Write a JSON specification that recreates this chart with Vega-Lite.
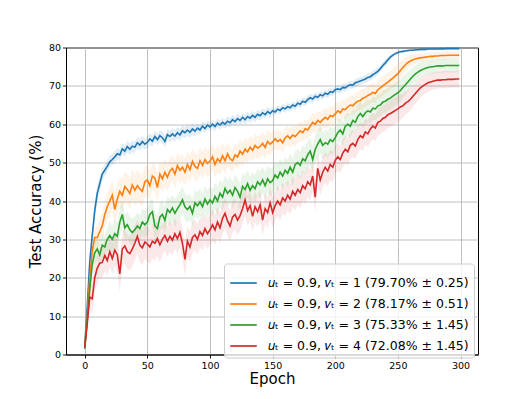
{
"$schema":"https://vega.github.io/schema/vega-lite/v6.json",
"width":412,"height":307,
"autosize":{"type":"none"},
"padding":{"left":66,"top":47.5,"right":54,"bottom":44.5},
"background":"white",
"data":{"values":[
{"e":0,"b":2.0,"o":2.0,"g":1.5,"r":1.8,"db":0.5,"do":0.5,"dg":0.5,"dr":0.5},
{"e":2,"b":12.5,"o":10.0,"g":9.0,"r":8.0,"db":2,"do":2,"dg":2,"dr":2},
{"e":4,"b":24.0,"o":20.0,"g":17.0,"r":15.0,"db":2.5,"do":3,"dg":3,"dr":3},
{"e":6,"b":31.0,"o":27.0,"g":23.5,"r":14.5,"db":2,"do":3,"dg":3,"dr":4},
{"e":8,"b":37.5,"o":30.5,"g":26.5,"r":20.0,"db":2,"do":3,"dg":3,"dr":4},
{"e":10,"b":42.0,"o":30.5,"g":27.5,"r":22.5,"db":2,"do":3,"dg":3,"dr":4},
{"e":12,"b":44.5,"o":32.0,"g":26.0,"r":23.8,"db":2,"do":3,"dg":3,"dr":4},
{"e":14,"b":47.0,"o":33.5,"g":28.5,"r":24.0,"db":1.5,"do":3.5,"dg":3,"dr":4},
{"e":16,"b":48.0,"o":36.5,"g":28.0,"r":25.8,"db":1.5,"do":3.5,"dg":3,"dr":4},
{"e":18,"b":49.0,"o":38.5,"g":30.0,"r":24.5,"db":1.5,"do":3.5,"dg":3,"dr":4},
{"e":20,"b":50.2,"o":40.0,"g":31.0,"r":26.8,"db":1.5,"do":4,"dg":3.5,"dr":4},
{"e":22,"b":50.8,"o":41.5,"g":30.0,"r":25.0,"db":1.5,"do":4,"dg":3.5,"dr":4},
{"e":24,"b":51.5,"o":37.8,"g":31.5,"r":27.2,"db":1.5,"do":4,"dg":3.5,"dr":4},
{"e":26,"b":52.3,"o":40.5,"g":30.8,"r":26.0,"db":1.5,"do":4,"dg":3.5,"dr":4.5},
{"e":28,"b":52.0,"o":42.5,"g":34.5,"r":21.0,"db":1.5,"do":4,"dg":3.5,"dr":4.5},
{"e":30,"b":53.6,"o":41.5,"g":36.5,"r":27.5,"db":1.5,"do":4,"dg":3.5,"dr":4.5},
{"e":32,"b":53.0,"o":43.8,"g":33.0,"r":28.3,"db":1.5,"do":4,"dg":3.5,"dr":4.5},
{"e":34,"b":54.2,"o":43.0,"g":33.8,"r":26.8,"db":1.5,"do":4,"dg":3.5,"dr":4.5},
{"e":36,"b":53.5,"o":42.0,"g":32.5,"r":26.3,"db":1.5,"do":4,"dg":3.5,"dr":4.5},
{"e":38,"b":54.3,"o":44.2,"g":31.8,"r":27.5,"db":1.5,"do":4,"dg":3.5,"dr":4.5},
{"e":40,"b":54.0,"o":42.8,"g":32.5,"r":29.0,"db":1.5,"do":4,"dg":3.5,"dr":4.5},
{"e":42,"b":55.2,"o":44.0,"g":33.5,"r":30.8,"db":1.5,"do":4,"dg":3.5,"dr":4.5},
{"e":44,"b":54.6,"o":43.2,"g":32.8,"r":28.5,"db":1.5,"do":4,"dg":3.5,"dr":4.5},
{"e":46,"b":55.5,"o":42.5,"g":34.5,"r":27.8,"db":1.5,"do":4,"dg":3.5,"dr":4.5},
{"e":48,"b":54.8,"o":45.0,"g":33.8,"r":29.3,"db":1.5,"do":4,"dg":3.5,"dr":4.5},
{"e":50,"b":55.3,"o":45.5,"g":34.5,"r":28.8,"db":1.5,"do":4,"dg":3.5,"dr":4.5},
{"e":52,"b":56.2,"o":44.0,"g":36.5,"r":28.0,"db":1.5,"do":3.5,"dg":3.5,"dr":4.5},
{"e":54,"b":55.6,"o":46.5,"g":37.2,"r":29.5,"db":1.5,"do":3.5,"dg":3.5,"dr":4.5},
{"e":56,"b":56.8,"o":46.0,"g":33.5,"r":29.0,"db":1.5,"do":3.5,"dg":3.5,"dr":4.5},
{"e":58,"b":56.0,"o":43.5,"g":32.8,"r":30.2,"db":1.5,"do":3.5,"dg":3.5,"dr":4.5},
{"e":60,"b":57.0,"o":47.0,"g":35.8,"r":28.6,"db":1.5,"do":3.5,"dg":3.5,"dr":4.5},
{"e":62,"b":56.5,"o":45.8,"g":36.5,"r":30.0,"db":1.5,"do":3.5,"dg":3.5,"dr":4},
{"e":64,"b":55.5,"o":47.5,"g":35.0,"r":31.0,"db":1.5,"do":3.5,"dg":3.5,"dr":4},
{"e":66,"b":57.3,"o":46.2,"g":37.8,"r":29.5,"db":1.5,"do":3.5,"dg":3.5,"dr":4},
{"e":68,"b":56.8,"o":47.8,"g":37.0,"r":30.8,"db":1.5,"do":3.5,"dg":3.5,"dr":4},
{"e":70,"b":57.5,"o":48.5,"g":38.2,"r":29.8,"db":1.5,"do":3.5,"dg":3.5,"dr":4},
{"e":72,"b":56.9,"o":47.0,"g":36.8,"r":31.5,"db":1.5,"do":3.5,"dg":3.5,"dr":4},
{"e":74,"b":57.8,"o":49.2,"g":38.0,"r":30.2,"db":1.5,"do":3.5,"dg":3.5,"dr":4},
{"e":76,"b":57.2,"o":48.0,"g":39.0,"r":31.8,"db":1.5,"do":3.5,"dg":3.5,"dr":4},
{"e":78,"b":58.3,"o":48.8,"g":40.3,"r":29.0,"db":1.5,"do":3.5,"dg":3.5,"dr":4},
{"e":80,"b":57.8,"o":47.5,"g":38.5,"r":24.8,"db":1.5,"do":3.5,"dg":3.5,"dr":4.5},
{"e":82,"b":58.5,"o":49.5,"g":37.8,"r":29.5,"db":1.5,"do":3.5,"dg":3.5,"dr":4},
{"e":84,"b":57.9,"o":48.2,"g":38.6,"r":28.0,"db":1.5,"do":3.5,"dg":3.5,"dr":4},
{"e":86,"b":58.8,"o":50.3,"g":36.8,"r":30.5,"db":1.5,"do":3.5,"dg":3.5,"dr":4},
{"e":88,"b":58.2,"o":49.0,"g":39.5,"r":31.2,"db":1.5,"do":3.5,"dg":3.5,"dr":4},
{"e":90,"b":59.0,"o":48.5,"g":38.8,"r":30.0,"db":1.2,"do":3.5,"dg":3.5,"dr":4},
{"e":92,"b":58.5,"o":50.5,"g":39.8,"r":32.0,"db":1.2,"do":3.5,"dg":3.5,"dr":4},
{"e":94,"b":59.5,"o":49.3,"g":38.5,"r":31.0,"db":1.2,"do":3.5,"dg":3.5,"dr":4},
{"e":96,"b":58.9,"o":50.8,"g":40.5,"r":32.8,"db":1.2,"do":3.5,"dg":3.5,"dr":4},
{"e":98,"b":59.8,"o":49.8,"g":39.2,"r":31.5,"db":1.2,"do":3.5,"dg":3.5,"dr":4},
{"e":100,"b":59.3,"o":50.4,"g":40.3,"r":32.5,"db":1.2,"do":3.5,"dg":3.5,"dr":4},
{"e":102,"b":60.0,"o":51.5,"g":39.5,"r":33.8,"db":1.2,"do":3.5,"dg":3.5,"dr":4},
{"e":104,"b":59.4,"o":49.5,"g":41.2,"r":32.5,"db":1.2,"do":3.5,"dg":3.5,"dr":4},
{"e":106,"b":60.3,"o":51.0,"g":40.0,"r":34.5,"db":1.2,"do":3.5,"dg":3.5,"dr":4},
{"e":108,"b":59.8,"o":50.2,"g":42.0,"r":33.0,"db":1.2,"do":3.5,"dg":3.5,"dr":4},
{"e":110,"b":60.5,"o":51.8,"g":41.0,"r":35.5,"db":1.2,"do":3.5,"dg":3.5,"dr":4},
{"e":112,"b":60.0,"o":50.5,"g":43.3,"r":36.8,"db":1.2,"do":3.5,"dg":3.5,"dr":4},
{"e":114,"b":60.8,"o":52.3,"g":42.0,"r":34.8,"db":1.2,"do":3,"dg":3.5,"dr":4},
{"e":116,"b":60.4,"o":51.0,"g":42.8,"r":33.5,"db":1.2,"do":3,"dg":3.5,"dr":4},
{"e":118,"b":61.2,"o":50.5,"g":41.5,"r":35.8,"db":1.2,"do":3,"dg":3.5,"dr":4},
{"e":120,"b":60.7,"o":52.0,"g":43.5,"r":36.5,"db":1.2,"do":3,"dg":3.5,"dr":4},
{"e":122,"b":61.5,"o":51.5,"g":42.5,"r":35.0,"db":1.2,"do":3,"dg":3.5,"dr":4},
{"e":124,"b":61.0,"o":53.0,"g":41.0,"r":36.2,"db":1.2,"do":3,"dg":3.5,"dr":4},
{"e":126,"b":61.8,"o":52.2,"g":43.8,"r":38.0,"db":1.2,"do":3,"dg":3.5,"dr":4},
{"e":128,"b":61.2,"o":53.5,"g":43.0,"r":40.3,"db":1.2,"do":3,"dg":3.5,"dr":4},
{"e":130,"b":62.0,"o":52.8,"g":44.5,"r":37.5,"db":1.2,"do":3,"dg":3.5,"dr":4},
{"e":132,"b":61.6,"o":54.0,"g":42.8,"r":38.8,"db":1.2,"do":3,"dg":3.5,"dr":4},
{"e":134,"b":62.3,"o":53.2,"g":44.0,"r":36.0,"db":1.2,"do":3,"dg":3.5,"dr":4},
{"e":136,"b":61.8,"o":54.5,"g":43.2,"r":38.5,"db":1.2,"do":3,"dg":3.5,"dr":4},
{"e":138,"b":62.6,"o":53.8,"g":45.0,"r":37.2,"db":1.2,"do":3,"dg":3.5,"dr":4},
{"e":140,"b":62.2,"o":54.2,"g":44.2,"r":39.0,"db":1.2,"do":3,"dg":3.5,"dr":4},
{"e":142,"b":63.0,"o":55.0,"g":45.5,"r":35.0,"db":1.2,"do":3,"dg":3.5,"dr":4},
{"e":144,"b":62.5,"o":54.0,"g":44.0,"r":38.0,"db":1.2,"do":3,"dg":3.5,"dr":4},
{"e":146,"b":63.3,"o":55.5,"g":45.8,"r":37.0,"db":1.2,"do":3,"dg":3.5,"dr":4},
{"e":148,"b":62.8,"o":54.8,"g":44.8,"r":39.5,"db":1.2,"do":3,"dg":3.5,"dr":4},
{"e":150,"b":63.5,"o":55.4,"g":45.3,"r":37.0,"db":1,"do":2.5,"dg":3.5,"dr":4},
{"e":152,"b":63.2,"o":56.2,"g":46.8,"r":38.8,"db":1,"do":2.5,"dg":3.5,"dr":4},
{"e":154,"b":63.9,"o":55.5,"g":46.0,"r":40.0,"db":1,"do":2.5,"dg":3.5,"dr":4},
{"e":156,"b":63.6,"o":56.0,"g":47.5,"r":39.0,"db":1,"do":2.5,"dg":3.5,"dr":4},
{"e":158,"b":64.3,"o":55.2,"g":46.5,"r":40.8,"db":1,"do":2.5,"dg":3.5,"dr":4},
{"e":160,"b":64.0,"o":56.5,"g":48.0,"r":40.0,"db":1,"do":2.5,"dg":3.5,"dr":4},
{"e":162,"b":64.6,"o":57.0,"g":47.2,"r":41.5,"db":1,"do":2.5,"dg":3.5,"dr":4},
{"e":164,"b":64.3,"o":56.3,"g":48.8,"r":40.5,"db":1,"do":2.5,"dg":3.5,"dr":4},
{"e":166,"b":65.0,"o":57.2,"g":47.5,"r":42.5,"db":1,"do":2.5,"dg":3.5,"dr":4},
{"e":168,"b":64.7,"o":56.8,"g":49.5,"r":41.5,"db":1,"do":2.5,"dg":3.5,"dr":4},
{"e":170,"b":65.5,"o":57.5,"g":50.0,"r":43.0,"db":1,"do":2.5,"dg":3.5,"dr":4},
{"e":172,"b":65.2,"o":58.3,"g":49.3,"r":42.2,"db":1,"do":2.5,"dg":3.5,"dr":4},
{"e":174,"b":66.0,"o":57.8,"g":51.0,"r":44.0,"db":1,"do":2.5,"dg":3.5,"dr":4},
{"e":176,"b":65.7,"o":58.8,"g":50.5,"r":43.2,"db":1,"do":2.5,"dg":3.5,"dr":4},
{"e":178,"b":66.4,"o":58.5,"g":52.0,"r":45.0,"db":1,"do":2.5,"dg":3.5,"dr":4},
{"e":180,"b":66.9,"o":59.5,"g":53.0,"r":44.2,"db":1,"do":2.5,"dg":3.5,"dr":4},
{"e":182,"b":66.6,"o":60.5,"g":50.8,"r":46.5,"db":1,"do":2.5,"dg":3.5,"dr":4},
{"e":184,"b":67.3,"o":60.0,"g":53.5,"r":41.0,"db":1,"do":2.5,"dg":3.5,"dr":4},
{"e":186,"b":67.0,"o":61.0,"g":54.8,"r":48.5,"db":1,"do":2.5,"dg":3.5,"dr":4},
{"e":188,"b":67.7,"o":60.5,"g":56.0,"r":45.5,"db":1,"do":2.5,"dg":3.5,"dr":4},
{"e":190,"b":67.4,"o":61.2,"g":54.5,"r":47.5,"db":1,"do":2.5,"dg":3.5,"dr":4},
{"e":192,"b":68.1,"o":61.8,"g":55.2,"r":48.8,"db":1,"do":2.5,"dg":3.5,"dr":4},
{"e":194,"b":67.8,"o":61.3,"g":54.8,"r":47.8,"db":1,"do":2.5,"dg":3.5,"dr":4},
{"e":196,"b":68.5,"o":62.3,"g":56.0,"r":49.5,"db":1,"do":2.5,"dg":3.5,"dr":4},
{"e":198,"b":68.3,"o":62.0,"g":55.5,"r":48.8,"db":1,"do":2.5,"dg":3.5,"dr":4},
{"e":200,"b":69.0,"o":62.7,"g":56.5,"r":50.6,"db":1,"do":2.5,"dg":3,"dr":3.5},
{"e":202,"b":69.2,"o":63.5,"g":57.8,"r":51.5,"db":1,"do":2.5,"dg":3,"dr":3.5},
{"e":204,"b":69.0,"o":63.0,"g":58.5,"r":50.8,"db":1,"do":2.5,"dg":3,"dr":3.5},
{"e":206,"b":69.6,"o":64.0,"g":57.5,"r":52.5,"db":1,"do":2.5,"dg":3,"dr":3.5},
{"e":208,"b":69.5,"o":63.8,"g":59.5,"r":53.5,"db":1,"do":2.5,"dg":3,"dr":3.5},
{"e":210,"b":70.0,"o":64.5,"g":60.0,"r":52.8,"db":1,"do":2.5,"dg":3,"dr":3.5},
{"e":212,"b":70.3,"o":65.0,"g":59.5,"r":54.5,"db":1,"do":2.5,"dg":3,"dr":3.5},
{"e":214,"b":70.2,"o":64.8,"g":61.0,"r":55.0,"db":1,"do":2.5,"dg":3,"dr":3.5},
{"e":216,"b":70.8,"o":65.5,"g":60.5,"r":54.3,"db":1,"do":2.5,"dg":3,"dr":3.5},
{"e":218,"b":71.0,"o":66.0,"g":62.0,"r":56.0,"db":1,"do":2.5,"dg":3,"dr":3.5},
{"e":220,"b":71.3,"o":66.2,"g":62.8,"r":57.0,"db":1,"do":2.5,"dg":3,"dr":3.5},
{"e":222,"b":71.5,"o":66.8,"g":62.0,"r":56.5,"db":1,"do":2.5,"dg":3,"dr":3.5},
{"e":224,"b":71.8,"o":67.0,"g":63.0,"r":58.0,"db":1,"do":2.5,"dg":3,"dr":3.5},
{"e":226,"b":72.2,"o":67.5,"g":63.5,"r":57.5,"db":1,"do":2.5,"dg":3,"dr":3.5},
{"e":228,"b":72.4,"o":67.8,"g":63.2,"r":58.8,"db":1,"do":2.5,"dg":3,"dr":3.5},
{"e":230,"b":72.9,"o":68.3,"g":64.2,"r":59.5,"db":1,"do":2.5,"dg":3,"dr":3.5},
{"e":232,"b":73.3,"o":68.0,"g":64.0,"r":59.0,"db":1,"do":2.5,"dg":3,"dr":3.5},
{"e":234,"b":73.8,"o":69.0,"g":64.8,"r":60.5,"db":1,"do":2.5,"dg":3,"dr":3.5},
{"e":236,"b":74.5,"o":69.5,"g":65.0,"r":60.8,"db":0.8,"do":2.5,"dg":3,"dr":3.5},
{"e":238,"b":75.3,"o":70.0,"g":65.8,"r":61.5,"db":0.8,"do":2.5,"dg":3,"dr":3.5},
{"e":240,"b":76.0,"o":70.5,"g":66.0,"r":61.8,"db":0.8,"do":2.5,"dg":3,"dr":3.5},
{"e":242,"b":76.8,"o":71.0,"g":66.5,"r":62.5,"db":0.7,"do":2.5,"dg":3,"dr":3.5},
{"e":244,"b":77.5,"o":71.5,"g":66.8,"r":62.8,"db":0.6,"do":2.5,"dg":3,"dr":3.5},
{"e":246,"b":78.0,"o":72.0,"g":67.3,"r":63.2,"db":0.5,"do":2.5,"dg":3,"dr":3.5},
{"e":248,"b":78.4,"o":72.6,"g":67.8,"r":63.6,"db":0.5,"do":2.5,"dg":3,"dr":3.5},
{"e":250,"b":78.7,"o":73.2,"g":68.2,"r":64.0,"db":0.5,"do":2.3,"dg":3,"dr":3.5},
{"e":252,"b":78.9,"o":74.0,"g":68.8,"r":64.5,"db":0.4,"do":2.2,"dg":2.8,"dr":3.3},
{"e":254,"b":79.0,"o":74.8,"g":69.6,"r":64.8,"db":0.4,"do":2,"dg":2.8,"dr":3.2},
{"e":256,"b":79.1,"o":75.5,"g":70.3,"r":65.5,"db":0.4,"do":1.8,"dg":2.7,"dr":3},
{"e":258,"b":79.2,"o":76.1,"g":71.0,"r":65.9,"db":0.3,"do":1.6,"dg":2.6,"dr":3},
{"e":260,"b":79.3,"o":76.5,"g":71.8,"r":66.5,"db":0.3,"do":1.5,"dg":2.5,"dr":2.9},
{"e":262,"b":79.3,"o":76.8,"g":72.5,"r":67.3,"db":0.3,"do":1.4,"dg":2.4,"dr":2.8},
{"e":264,"b":79.4,"o":77.0,"g":73.1,"r":68.0,"db":0.3,"do":1.3,"dg":2.3,"dr":2.7},
{"e":266,"b":79.4,"o":77.2,"g":73.6,"r":68.8,"db":0.3,"do":1.2,"dg":2.2,"dr":2.6},
{"e":268,"b":79.5,"o":77.3,"g":74.0,"r":69.5,"db":0.3,"do":1.1,"dg":2.1,"dr":2.5},
{"e":270,"b":79.5,"o":77.4,"g":74.3,"r":70.0,"db":0.3,"do":1.1,"dg":2,"dr":2.4},
{"e":272,"b":79.5,"o":77.5,"g":74.6,"r":70.4,"db":0.3,"do":1,"dg":1.9,"dr":2.3},
{"e":274,"b":79.6,"o":77.6,"g":74.8,"r":70.8,"db":0.3,"do":1,"dg":1.9,"dr":2.3},
{"e":276,"b":79.6,"o":77.7,"g":74.9,"r":71.0,"db":0.3,"do":1,"dg":1.8,"dr":2.2},
{"e":278,"b":79.6,"o":77.7,"g":75.0,"r":71.2,"db":0.3,"do":1,"dg":1.8,"dr":2.2},
{"e":280,"b":79.6,"o":77.8,"g":75.1,"r":71.4,"db":0.3,"do":1,"dg":1.8,"dr":2.2},
{"e":282,"b":79.6,"o":77.8,"g":75.2,"r":71.5,"db":0.3,"do":1,"dg":1.8,"dr":2.2},
{"e":284,"b":79.7,"o":77.9,"g":75.2,"r":71.5,"db":0.3,"do":1,"dg":1.8,"dr":2.2},
{"e":286,"b":79.6,"o":77.9,"g":75.2,"r":71.6,"db":0.3,"do":1,"dg":1.8,"dr":2.2},
{"e":288,"b":79.7,"o":77.9,"g":75.3,"r":71.6,"db":0.3,"do":1,"dg":1.8,"dr":2.2},
{"e":290,"b":79.7,"o":78.0,"g":75.3,"r":71.7,"db":0.3,"do":1,"dg":1.8,"dr":2.2},
{"e":292,"b":79.7,"o":78.0,"g":75.3,"r":71.7,"db":0.3,"do":1,"dg":1.8,"dr":2.2},
{"e":294,"b":79.7,"o":78.0,"g":75.3,"r":71.7,"db":0.3,"do":1,"dg":1.8,"dr":2.2},
{"e":296,"b":79.7,"o":78.0,"g":75.3,"r":71.8,"db":0.3,"do":1,"dg":1.8,"dr":2.2},
{"e":299,"b":79.7,"o":78.0,"g":75.3,"r":71.8,"db":0.3,"do":1,"dg":1.8,"dr":2.2}
]},
"encoding":{
"x":{"field":"e","type":"quantitative","title":"Epoch",
"scale":{"domain":[-14.95,313.95],"nice":false,"zero":false},
"axis":{"values":[0,50,100,150,200,250,300],"titlePadding":2}}
},
"layer":[
{"mark":{"type":"errorband","color":"#1f77b4","opacity":0.13},
"encoding":{"y":{"field":"b","type":"quantitative","title":"Test Accuracy (%)","scale":{"domain":[0,80],"nice":false},"axis":{"values":[0,10,20,30,40,50,60,70,80],"titlePadding":5,"labelOverlap":false}},"yError":{"field":"db"}}},
{"mark":{"type":"errorband","color":"#ff7f0e","opacity":0.1},
"encoding":{"y":{"field":"o","type":"quantitative","title":"Test Accuracy (%)","axis":{"values":[0,10,20,30,40,50,60,70,80],"titlePadding":5,"labelOverlap":false}},"yError":{"field":"do"}}},
{"mark":{"type":"errorband","color":"#2ca02c","opacity":0.1},
"encoding":{"y":{"field":"g","type":"quantitative","title":"Test Accuracy (%)","axis":{"values":[0,10,20,30,40,50,60,70,80],"titlePadding":5,"labelOverlap":false}},"yError":{"field":"dg"}}},
{"mark":{"type":"errorband","color":"#d62728","opacity":0.1},
"encoding":{"y":{"field":"r","type":"quantitative","title":"Test Accuracy (%)","axis":{"values":[0,10,20,30,40,50,60,70,80],"titlePadding":5,"labelOverlap":false}},"yError":{"field":"dr"}}},
{"mark":{"type":"line","strokeWidth":1.6},
"encoding":{"y":{"field":"b","type":"quantitative","title":"Test Accuracy (%)","axis":{"values":[0,10,20,30,40,50,60,70,80],"titlePadding":5,"labelOverlap":false}},
"color":{"datum":"𝑢ₜ = 0.9, 𝑣ₜ = 1 (79.70% ± 0.25)","type":"nominal",
"scale":{"domain":["𝑢ₜ = 0.9, 𝑣ₜ = 1 (79.70% ± 0.25)","𝑢ₜ = 0.9, 𝑣ₜ = 2 (78.17% ± 0.51)","𝑢ₜ = 0.9, 𝑣ₜ = 3 (75.33% ± 1.45)","𝑢ₜ = 0.9, 𝑣ₜ = 4 (72.08% ± 1.45)"],"range":["#1f77b4","#ff7f0e","#2ca02c","#d62728"]},
"legend":{"title":null,"orient":"none","legendX":158,"legendY":216,"symbolType":"stroke","symbolSize":700,"symbolStrokeWidth":1.7,"labelFontSize":12.5,"labelFont":"DejaVu Sans","labelColor":"black","fillColor":"rgba(255,255,255,0.8)","strokeColor":"#cccccc","cornerRadius":3,"padding":5,"rowPadding":-1.7,"labelOffset":10,"labelLimit":400}}}},
{"mark":{"type":"line","strokeWidth":1.6},
"encoding":{"y":{"field":"o","type":"quantitative","title":"Test Accuracy (%)","axis":{"values":[0,10,20,30,40,50,60,70,80],"titlePadding":5,"labelOverlap":false}},"color":{"datum":"𝑢ₜ = 0.9, 𝑣ₜ = 2 (78.17% ± 0.51)","type":"nominal"}}},
{"mark":{"type":"line","strokeWidth":1.6},
"encoding":{"y":{"field":"g","type":"quantitative","title":"Test Accuracy (%)","axis":{"values":[0,10,20,30,40,50,60,70,80],"titlePadding":5,"labelOverlap":false}},"color":{"datum":"𝑢ₜ = 0.9, 𝑣ₜ = 3 (75.33% ± 1.45)","type":"nominal"}}},
{"mark":{"type":"line","strokeWidth":1.6},
"encoding":{"y":{"field":"r","type":"quantitative","title":"Test Accuracy (%)","axis":{"values":[0,10,20,30,40,50,60,70,80],"titlePadding":5,"labelOverlap":false}},"color":{"datum":"𝑢ₜ = 0.9, 𝑣ₜ = 4 (72.08% ± 1.45)","type":"nominal"}}}
],
"config":{
"font":"DejaVu Sans",
"view":{"stroke":"black","strokeWidth":1},
"axis":{"domainColor":"black","domainWidth":1,"tickColor":"black","tickSize":3.5,"tickWidth":0.9,"labelColor":"black","labelFontSize":9.5,"labelFont":"DejaVu Sans","labelPadding":2,"titleColor":"black","titleFont":"DejaVu Sans","titleFontSize":15,"titleFontWeight":"normal","gridColor":"#b0b0b0","gridWidth":0.8}
}
}
